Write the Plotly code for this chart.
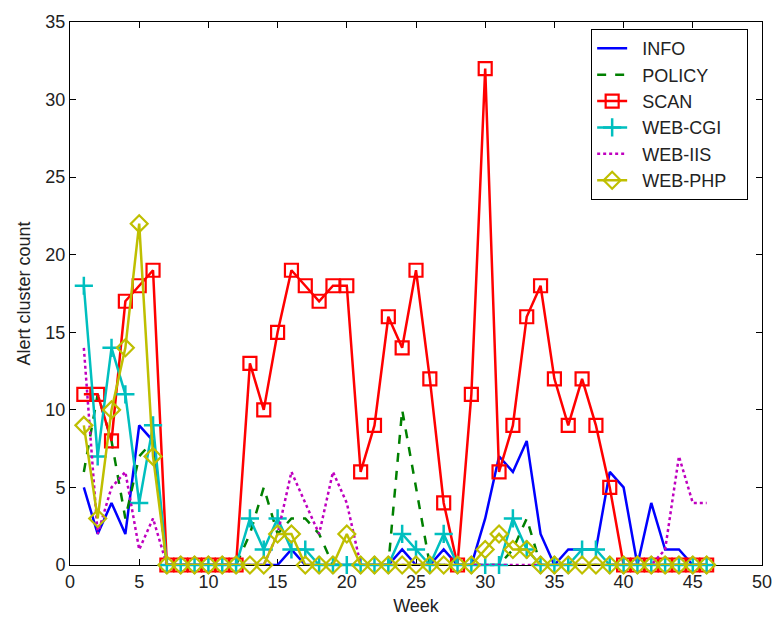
import plotly.graph_objects as go

weeks = list(range(1, 47))

info = [5, 2, 4, 2, 9, 8, 0, 0, 0, 0, 0, 0, 0, 0, 0, 1, 0, 0, 0, 0, 0, 0, 0, 1, 0, 0, 1, 0, 0, 3, 7, 6, 8, 2, 0, 1, 1, 1, 6, 5, 0, 4, 1, 1, 0, 0]
policy = [6, 11, 8, 3, 7, 8, 0, 0, 0, 0, 0, 0, 2, 5, 2, 3, 3, 2, 0, 0, 0, 0, 0, 10, 5, 0, 0, 0, 0, 0, 0, 1, 3, 0, 0, 0, 0, 0, 0, 0, 0, 0, 0, 0, 0, 0]
scan = [11, 11, 8, 17, 18, 19, 0, 0, 0, 0, 0, 0, 13, 10, 15, 19, 18, 17, 18, 18, 6, 9, 16, 14, 19, 12, 4, 0, 11, 32, 6, 9, 16, 18, 12, 9, 12, 9, 5, 0, 0, 0, 0, 0, 0, 0]
web_cgi = [18, 7, 14, 11, 4, 9, 0, 0, 0, 0, 0, 0, 3, 1, 3, 1, 1, 0, 0, 0, 0, 0, 0, 2, 1, 0, 2, 0, 0, 0, 0, 3, 1, 0, 0, 0, 1, 1, 0, 0, 0, 0, 0, 0, 0, 0]
web_iis = [14, 2, 5, 6, 1, 3, 0, 0, 0, 0, 0, 0, 0, 0, 2, 6, 4, 2, 6, 4, 0, 0, 0, 0, 0, 0, 0, 0, 0, 0, 0, 0, 0, 0, 0, 0, 0, 0, 0, 0, 0, 0, 1, 7, 4, 4]
web_php = [9, 3, 10, 14, 22, 7, 0, 0, 0, 0, 0, 0, 0, 0, 2, 2, 0, 0, 0, 2, 0, 0, 0, 0, 0, 0, 0, 0, 0, 1, 2, 1, 1, 0, 0, 0, 0, 0, 0, 0, 0, 0, 0, 0, 0, 0]

series_names = ["INFO", "POLICY", "SCAN", "WEB-CGI", "WEB-IIS", "WEB-PHP"]
x_ticks = [0, 5, 10, 15, 20, 25, 30, 35, 40, 45, 50]
y_ticks = [0, 5, 10, 15, 20, 25, 30, 35]

FONT = "Liberation Sans, Arial, sans-serif"
LW = 2.5
NB = "\u00a0"


def lbl(s):
    return NB * 2 + s + NB * 3


fig = go.Figure()
fig.add_trace(go.Scatter(x=weeks, y=info, name=lbl(series_names[0]), mode="lines",
                         line=dict(color="#0000FF", width=LW), cliponaxis=False))
fig.add_trace(go.Scatter(x=weeks, y=policy, name=lbl(series_names[1]), mode="lines",
                         line=dict(color="#008000", width=LW, dash="dash"), cliponaxis=False))
fig.add_trace(go.Scatter(x=weeks, y=scan, name=lbl(series_names[2]), mode="lines+markers",
                         line=dict(color="#FF0000", width=LW),
                         marker=dict(symbol="square-open", size=13, color="#FF0000",
                                     line=dict(width=2.2, color="#FF0000")),
                         cliponaxis=False))
fig.add_trace(go.Scatter(x=weeks, y=web_cgi, name=lbl(series_names[3]), mode="lines+markers",
                         line=dict(color="#00BFBF", width=LW),
                         marker=dict(symbol="cross-thin-open", size=13, color="#00BFBF",
                                     line=dict(width=2.5, color="#00BFBF")),
                         cliponaxis=False))
fig.add_trace(go.Scatter(x=weeks, y=web_iis, name=lbl(series_names[4]), mode="lines",
                         line=dict(color="#BF00BF", width=LW, dash="dot"), cliponaxis=False))
fig.add_trace(go.Scatter(x=weeks, y=web_php, name=lbl(series_names[5]), mode="lines+markers",
                         line=dict(color="#BFBF00", width=LW),
                         marker=dict(symbol="diamond-open", size=13, color="#BFBF00",
                                     line=dict(width=2.2, color="#BFBF00")),
                         cliponaxis=False))

axis_common = dict(showgrid=False, zeroline=False, showline=True, linecolor="black",
                   linewidth=1, mirror="ticks", ticks="inside", ticklen=6,
                   tickcolor="black", layer="below traces", automargin=False,
                   ticklabeloverflow="allow",
                   tickfont=dict(family=FONT, size=18, color="#222"),
                   title_font=dict(family=FONT, size=18, color="#222"))

fig.update_layout(
    width=773, height=623,
    margin=dict(l=70, r=11, t=22, b=58, autoexpand=False),
    paper_bgcolor="white", plot_bgcolor="white",
    font=dict(family=FONT, size=18, color="#222"),
    xaxis=dict(range=[0, 50], tickvals=x_ticks, title=dict(text="Week", standoff=8), **axis_common),
    yaxis=dict(range=[0, 35], tickvals=y_ticks, title=dict(text="Alert cluster count", standoff=10), **axis_common),
    legend=dict(x=0.98, y=0.987, xanchor="right", yanchor="top",
                bgcolor="white", bordercolor="black", borderwidth=1,
                font=dict(family=FONT, size=18, color="#222"),
                tracegroupgap=0),
    showlegend=True,
)

fig.write_html("out.html", config={"displayModeBar": False},
               post_script="document.body.style.margin='0';document.body.style.padding='0';")
